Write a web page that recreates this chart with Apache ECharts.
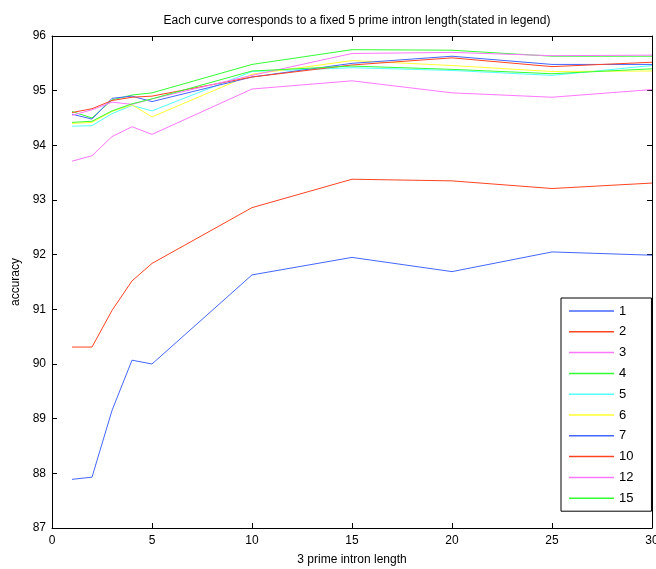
<!DOCTYPE html>
<html>
<head>
<meta charset="utf-8">
<script src="https://cdn.jsdelivr.net/npm/echarts@6/dist/echarts.min.js"></script>
<style>html,body{margin:0;padding:0;background:#fff}#c{width:656px;height:569px}</style>
</head>
<body>
<div id="c"></div>
<script>
const xValues = [1, 2, 3, 4, 5, 10, 15, 20, 25, 30];
const seriesNames = ['1', '2', '3', '4', '5', '6', '7', '10', '12', '15'];
const s1  = [87.89, 87.93, 89.15, 90.07, 90.00, 91.63, 91.95, 91.69, 92.05, 91.99];
const s2  = [90.31, 90.31, 90.98, 91.52, 91.84, 92.86, 93.38, 93.35, 93.21, 93.31];
const s3  = [93.71, 93.81, 94.16, 94.34, 94.20, 95.03, 95.18, 94.96, 94.88, 95.02];
const s4  = [94.62, 94.50, 94.83, 94.92, 94.96, 95.48, 95.75, 95.74, 95.63, 95.63];
const s5  = [94.35, 94.36, 94.58, 94.73, 94.63, 95.35, 95.42, 95.37, 95.28, 95.46];
const s6  = [94.40, 94.42, 94.62, 94.74, 94.52, 95.30, 95.55, 95.46, 95.35, 95.36];
const s7  = [94.57, 94.48, 94.86, 94.90, 94.80, 95.25, 95.50, 95.63, 95.48, 95.48];
const s10 = [94.60, 94.67, 94.82, 94.88, 94.90, 95.25, 95.47, 95.60, 95.44, 95.52];
const s12 = [94.55, 94.65, 94.79, 94.75, 94.85, 95.28, 95.68, 95.70, 95.64, 95.65];
const s15 = [94.42, 94.44, 94.63, 94.76, 94.85, 95.36, 95.45, 95.39, 95.31, 95.40];
const seriesValues = [s1, s2, s3, s4, s5, s6, s7, s10, s12, s15];
const colors = ['#4466ff', '#ff4422', '#ff77ff', '#33ff33', '#55ffff', '#ffff33', '#4466ff', '#ff4422', '#ff77ff', '#33ff33'];
const yTicks = [87, 88, 89, 90, 91, 92, 93, 94, 95, 96];

const chart = echarts.init(document.getElementById('c'), null, {renderer: 'canvas'});
const font = 'Liberation Sans, Arial, sans-serif';
const axisCommon = {
  axisLine: {show: true, onZero: false, lineStyle: {color: '#000', width: 1}},
  axisTick: {show: true, inside: true, length: 5, lineStyle: {color: '#000'}},
  splitLine: {show: false}
};
chart.setOption({
  animation: false,
  backgroundColor: '#fff',
  color: colors,
  title: {
    text: 'Each curve corresponds to a fixed 5 prime intron length(stated in legend)',
    left: 352, top: 10, textAlign: 'center',
    textStyle: {fontFamily: font, fontSize: 12, fontWeight: 'normal', color: '#000'}
  },
  grid: {left: 52, right: 4, top: 36, bottom: 41, containLabel: false, outerBoundsMode: 'none'},
  legend: {
    orient: 'vertical', left: 561, top: 298,
    data: seriesNames,
    icon: 'rect', itemWidth: 45, itemHeight: 1.5, itemGap: 6.8,
    padding: [6, 18, 6, 8],
    borderColor: '#000', borderWidth: 1, backgroundColor: '#fff',
    textStyle: {fontFamily: font, fontSize: 13, color: '#000', lineHeight: 14}
  },
  xAxis: [
    Object.assign({
      type: 'value', min: 0, max: 30, interval: 5, position: 'bottom',
      name: '3 prime intron length', nameLocation: 'middle', nameGap: 26,
      nameTextStyle: {fontFamily: font, fontSize: 12, color: '#000'},
      axisLabel: {fontFamily: font, fontSize: 12, color: '#000', margin: 7}
    }, axisCommon),
    Object.assign({
      type: 'value', min: 0, max: 30, interval: 5, position: 'top',
      axisLabel: {show: false}
    }, axisCommon)
  ],
  yAxis: [
    Object.assign({
      type: 'value', min: yTicks[0], max: yTicks[yTicks.length - 1], interval: 1, position: 'left',
      name: 'accuracy', nameLocation: 'middle', nameGap: 28,
      nameTextStyle: {fontFamily: font, fontSize: 12, color: '#000'},
      axisLabel: {fontFamily: font, fontSize: 12, color: '#000', margin: 6}
    }, axisCommon),
    Object.assign({
      type: 'value', min: yTicks[0], max: yTicks[yTicks.length - 1], interval: 1, position: 'right',
      axisLabel: {show: false}
    }, axisCommon)
  ],
  series: seriesNames.map((n, i) => ({
    name: n, type: 'line', symbol: 'none', silent: true,
    xAxisIndex: 0, yAxisIndex: 0,
    lineStyle: {width: 1, color: colors[i]},
    itemStyle: {color: colors[i]},
    data: xValues.map((x, j) => [x, seriesValues[i][j]])
  }))
});
</script>
</body>
</html>
